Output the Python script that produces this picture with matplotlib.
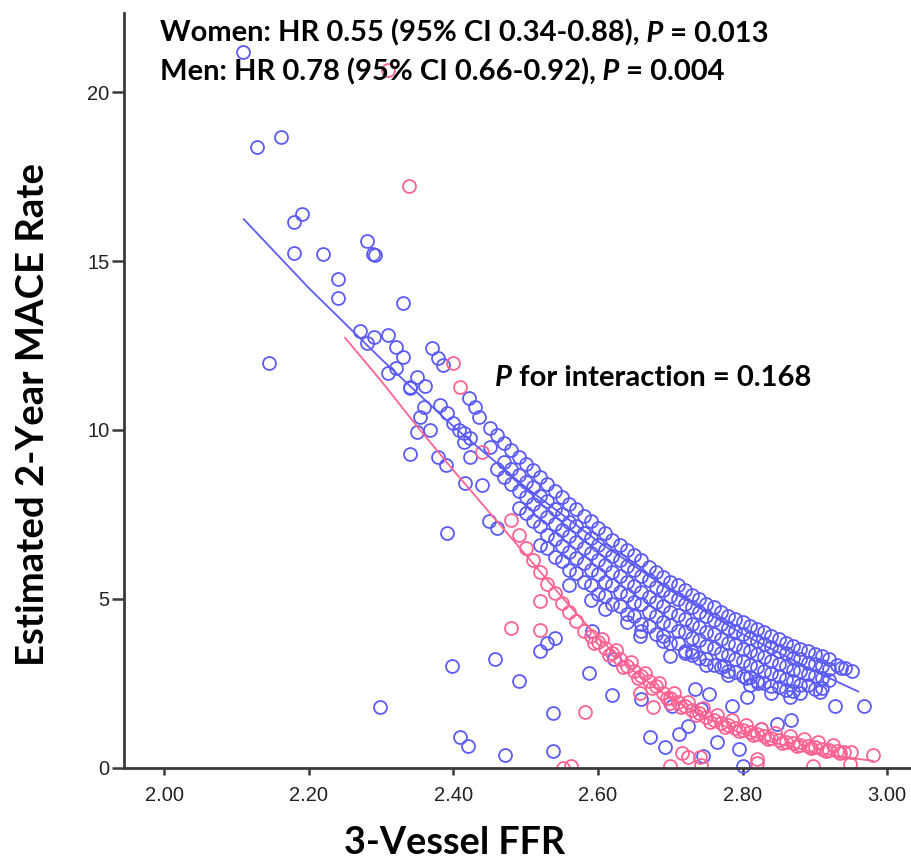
import matplotlib
matplotlib.use("Agg")
import matplotlib.pyplot as plt

# ---------------- data ----------------
men_top_x = [2.45, 2.46, 2.47, 2.48, 2.49, 2.50, 2.51, 2.52, 2.53, 2.54, 2.55, 2.56, 2.57, 2.58, 2.59, 2.60,
             2.61, 2.62, 2.63, 2.64, 2.65, 2.66, 2.67, 2.68, 2.69, 2.70, 2.71, 2.72, 2.73, 2.74, 2.75, 2.76,
             2.77, 2.78, 2.79, 2.80, 2.81, 2.82, 2.83, 2.84, 2.85, 2.86, 2.87, 2.88, 2.89, 2.90, 2.91, 2.92]
men_top_y = [10.05, 9.85, 9.6, 9.4, 9.2, 9.0, 8.8, 8.6, 8.4, 8.2, 8.0, 7.8, 7.65, 7.45, 7.3, 7.1,
             6.95, 6.75, 6.6, 6.45, 6.3, 6.15, 5.95, 5.8, 5.65, 5.5, 5.4, 5.25, 5.1, 5.0, 4.85, 4.75,
             4.6, 4.5, 4.4, 4.3, 4.2, 4.1, 4.0, 3.9, 3.8, 3.7, 3.6, 3.5, 3.45, 3.35, 3.3, 3.2]

men_band_x = [2.45, 2.47, 2.49, 2.51, 2.53, 2.55, 2.57, 2.59, 2.61, 2.63, 2.65, 2.67, 2.69, 2.71, 2.73, 2.75,
              2.77, 2.79, 2.81, 2.83, 2.85, 2.87, 2.89, 2.91,
              2.46, 2.48, 2.50, 2.52, 2.54, 2.56, 2.58, 2.60, 2.62, 2.64, 2.66, 2.68, 2.70, 2.72, 2.74, 2.76,
              2.78, 2.80, 2.82, 2.84, 2.86, 2.88, 2.90, 2.92,
              2.49, 2.51, 2.53, 2.55, 2.57, 2.59, 2.61, 2.63, 2.65, 2.67, 2.69, 2.71, 2.73, 2.75, 2.77, 2.79,
              2.81, 2.83, 2.85, 2.87, 2.89, 2.91,
              2.52, 2.54, 2.56, 2.58, 2.60, 2.62, 2.64, 2.66, 2.68, 2.70, 2.72, 2.74, 2.76, 2.78, 2.80, 2.82,
              2.84, 2.86, 2.88,
              2.48, 2.50, 2.52, 2.54, 2.56, 2.58, 2.60, 2.62, 2.64, 2.66, 2.68, 2.70, 2.72, 2.74, 2.76, 2.78,
              2.80, 2.82, 2.84, 2.86, 2.88, 2.90, 2.92,
              2.47, 2.49, 2.51, 2.53, 2.55, 2.57, 2.59, 2.61, 2.63, 2.65, 2.67, 2.69, 2.71, 2.73, 2.75, 2.77,
              2.79, 2.81, 2.83, 2.85, 2.87, 2.89, 2.91,
              2.50, 2.52, 2.54, 2.56, 2.58, 2.60, 2.62, 2.64, 2.66, 2.68, 2.70, 2.72, 2.74, 2.76, 2.78, 2.80,
              2.82, 2.84, 2.86, 2.88, 2.90,
              2.53, 2.55, 2.57, 2.59, 2.61, 2.63, 2.65, 2.67, 2.69, 2.71, 2.73, 2.75, 2.77, 2.79, 2.81, 2.83,
              2.85, 2.87,
              2.56, 2.59, 2.61, 2.64, 2.66, 2.69, 2.72, 2.75, 2.78, 2.81, 2.84]
men_band_y = [9.5, 9.05, 8.65, 8.3, 7.9, 7.5, 7.15, 6.8, 6.45, 6.15, 5.85, 5.55, 5.25, 5.0, 4.75, 4.5,
              4.25, 4.05, 3.85, 3.65, 3.45, 3.25, 3.1, 3.0,
              8.85, 8.4, 8.0, 7.6, 7.2, 6.85, 6.5, 6.15, 5.8, 5.5, 5.2, 4.9, 4.6, 4.4, 4.15, 3.95,
              3.7, 3.5, 3.35, 3.15, 3.0, 2.85, 2.7, 2.6,
              7.7, 7.3, 6.9, 6.55, 6.2, 5.85, 5.5, 5.2, 4.9, 4.6, 4.3, 4.05, 3.85, 3.6, 3.4, 3.2,
              3.05, 2.85, 2.7, 2.55, 2.45, 2.35,
              6.6, 6.25, 5.85, 5.5, 5.15, 4.85, 4.55, 4.25, 3.95, 3.7, 3.45, 3.25, 3.05, 2.85, 2.7, 2.55,
              2.4, 2.3, 2.2,
              8.85, 8.45, 8.05, 7.67, 7.28, 6.95, 6.6, 6.27, 5.97, 5.68, 5.35, 5.07, 4.83, 4.6, 4.36, 4.13,
              3.95, 3.76, 3.58, 3.39, 3.2, 3.06, 2.92,
              8.6, 8.2, 7.8, 7.42, 7.03, 6.68, 6.35, 6.0, 5.67, 5.38, 5.05, 4.77, 4.53, 4.25, 4.02, 3.8,
              3.62, 3.44, 3.26, 3.08, 2.9, 2.77, 2.65,
              7.55, 7.15, 6.77, 6.38, 6.05, 5.72, 5.4, 5.12, 4.83, 4.5, 4.23, 4.0, 3.78, 3.55, 3.33, 3.15,
              2.97, 2.8, 2.62, 2.45, 2.33,
              6.5, 6.12, 5.77, 5.42, 5.08, 4.77, 4.5, 4.18, 3.9, 3.68, 3.42, 3.2, 2.98, 2.82, 2.67, 2.5,
              2.38, 2.27,
              5.4, 4.95, 4.7, 4.3, 4.05, 3.75, 3.4, 3.05, 2.75, 2.45, 2.2]

men_scatter_x = [2.109, 2.128, 2.161, 2.179, 2.190, 2.180, 2.220, 2.240, 2.240, 2.280, 2.289, 2.291, 2.330,
                 2.145, 2.271, 2.280, 2.290, 2.310, 2.320, 2.330, 2.309, 2.321, 2.370, 2.379, 2.385, 2.340,
                 2.350, 2.361, 2.359, 2.381, 2.354, 2.368, 2.349, 2.391, 2.400, 2.421, 2.430, 2.435, 2.414,
                 2.423, 2.340, 2.379, 2.389, 2.407, 2.414, 2.423, 2.391, 2.416, 2.439, 2.449, 2.460, 2.340,
                 2.299, 2.398, 2.409, 2.420, 2.471, 2.458, 2.490, 2.538, 2.538, 2.520, 2.529, 2.541, 2.592,
                 2.587, 2.622, 2.658, 2.700, 2.730, 2.620, 2.660, 2.734, 2.754, 2.806, 2.786, 2.703, 2.743,
                 2.724, 2.712, 2.672, 2.693, 2.765, 2.795, 2.745, 2.826, 2.848, 2.867, 2.800, 2.866, 2.928,
                 2.968, 2.936, 2.952, 2.907, 2.774, 2.805, 2.821, 2.931, 2.942]
men_scatter_y = [21.18, 18.37, 18.67, 16.16, 16.39, 15.25, 15.20, 14.46, 13.91, 15.59, 15.21, 15.17, 13.75,
                 11.99, 12.93, 12.58, 12.76, 12.81, 12.46, 12.17, 11.68, 11.83, 12.44, 12.12, 11.92, 11.23,
                 11.58, 11.30, 10.69, 10.74, 10.39, 10.00, 9.95, 10.49, 10.20, 10.94, 10.69, 10.39, 9.90,
                 9.75, 9.30, 9.20, 8.96, 10.00, 9.65, 9.20, 6.94, 8.42, 8.37, 7.29, 7.09, 11.28,
                 1.78, 3.02, 0.89, 0.65, 0.38, 3.20, 2.57, 1.60, 0.50, 3.44, 3.69, 3.84, 4.03,
                 2.80, 3.20, 3.89, 3.30, 3.34, 2.14, 2.04, 2.32, 2.19, 2.09, 1.83, 1.83, 1.73,
                 1.22, 0.98, 0.89, 0.62, 0.77, 0.56, 0.34, 1.15, 1.30, 1.41, 0.05, 2.09, 1.83,
                 1.83, 2.95, 2.85, 2.24, 3.00, 2.64, 2.49, 3.05, 2.96]

women_band_x = [2.48, 2.49, 2.50, 2.51, 2.52, 2.53, 2.54, 2.55, 2.56, 2.57, 2.58, 2.59, 2.60, 2.61, 2.62,
                2.63, 2.64, 2.65, 2.66, 2.67, 2.68, 2.69, 2.70, 2.71, 2.72, 2.73, 2.74, 2.75, 2.76, 2.77,
                2.78, 2.79, 2.80, 2.81, 2.82, 2.83, 2.84, 2.85, 2.86, 2.87, 2.88, 2.89, 2.90, 2.91, 2.92,
                2.93, 2.94, 2.95, 2.98,
                2.605, 2.625, 2.645, 2.665, 2.685, 2.705, 2.725, 2.745, 2.765, 2.785, 2.805, 2.825, 2.845,
                2.865, 2.885, 2.905, 2.925,
                2.595, 2.615, 2.635, 2.655, 2.675, 2.695, 2.715, 2.735, 2.755, 2.775, 2.795, 2.815, 2.835,
                2.855, 2.875, 2.895, 2.915, 2.935]
women_band_y = [7.34, 6.9, 6.5, 6.15, 5.8, 5.45, 5.18, 4.87, 4.6, 4.33, 4.05, 3.9, 3.72, 3.55, 3.38,
                3.2, 3.02, 2.86, 2.7, 2.55, 2.4, 2.22, 2.06, 1.94, 1.82, 1.7, 1.6, 1.5, 1.41, 1.33,
                1.25, 1.18, 1.11, 1.05, 0.99, 0.93, 0.87, 0.82, 0.77, 0.72, 0.68, 0.64, 0.6, 0.56, 0.53,
                0.5, 0.47, 0.45, 0.36,
                3.82, 3.48, 3.12, 2.8, 2.5, 2.2, 1.95, 1.75, 1.56, 1.4, 1.26, 1.14, 1.02,
                0.92, 0.84, 0.76, 0.68,
                3.68, 3.32, 2.98, 2.66, 2.35, 2.05, 1.78, 1.55, 1.36, 1.21, 1.07, 0.95, 0.84,
                0.74, 0.65, 0.57, 0.5, 0.43]

women_scatter_x = [2.310, 2.339, 2.400, 2.409, 2.439, 2.479, 2.520, 2.520, 2.582, 2.552, 2.562, 2.700,
                   2.716, 2.724, 2.743, 2.741, 2.820, 2.820, 2.898, 2.949, 2.676, 2.658, 2.700]
women_scatter_y = [20.65, 17.22, 11.97, 11.26, 9.36, 4.13, 4.08, 4.92, 1.63, 0.00, 0.05, 0.05,
                   0.43, 0.31, 0.06, 0.30, 0.14, 0.24, 0.04, 0.09, 1.80, 2.22, 1.92]

men_fit_x = [2.11, 2.20, 2.30, 2.40, 2.50, 2.60, 2.70, 2.80, 2.90, 2.96]
men_fit_y = [16.24, 14.2, 12.1, 10.1, 8.3, 6.7, 5.25, 3.95, 2.85, 2.25]
women_fit_x = [2.25, 2.30, 2.35, 2.40, 2.45, 2.50, 2.55, 2.60, 2.65, 2.70, 2.75, 2.80, 2.85, 2.90, 2.95, 2.98]
women_fit_y = [12.73, 11.45, 10.1, 8.8, 7.55, 6.3, 5.05, 3.85, 2.85, 2.05, 1.45, 1.0, 0.7, 0.45, 0.28, 0.2]

x_ticks = [2.00, 2.20, 2.40, 2.60, 2.80, 3.00]
x_tick_labels = ["2.00", "2.20", "2.40", "2.60", "2.80", "3.00"]
y_ticks = [0, 5, 10, 15, 20]

# ---------------- styling ----------------
W, H = 911, 865
BLUE = "#5b5bf7"
PINK = "#ff6391"
AXC = "#3a3a3a"
TXT_FONT = "Lato"

fig = plt.figure(figsize=(W / 100, H / 100), dpi=100)
ax = fig.add_axes([124 / W, 1 - 767.5 / H, (W - 124) / W, (767.5 - 13) / H])

ms, mew = 9.3, 1.3
ax.plot(men_top_x + men_band_x + men_scatter_x, men_top_y + men_band_y + men_scatter_y,
        linestyle="none", marker="o", ms=ms, mfc="none", mec=BLUE, mew=mew, clip_on=False, zorder=2)
ax.plot(women_band_x + women_scatter_x, women_band_y + women_scatter_y,
        linestyle="none", marker="o", ms=ms, mfc="none", mec=PINK, mew=mew, clip_on=True, zorder=2)
ax.plot(men_fit_x, men_fit_y, color=BLUE, lw=1.3, zorder=3)
ax.plot(women_fit_x, women_fit_y, color=PINK, lw=1.3, zorder=3)

ax.set_xlim(1.9442, 3.033)
ax.set_ylim(0, 22.35)
ax.set_xticks(x_ticks)
ax.set_xticklabels(x_tick_labels)
ax.set_yticks(y_ticks)
for s in ("top", "right"):
    ax.spines[s].set_visible(False)
for s in ("left", "bottom"):
    ax.spines[s].set_color(AXC)
    ax.spines[s].set_linewidth(2.0)
ax.tick_params(axis="y", direction="out", length=9, width=1.8, color=AXC, pad=1.5,
               labelsize=14.5, labelcolor="#222222")
ax.tick_params(axis="x", direction="out", length=5, width=1.8, color=AXC, pad=8,
               labelsize=14.5, labelcolor="#222222")
for lab in ax.get_xticklabels() + ax.get_yticklabels():
    lab.set_fontfamily("Liberation Sans")

# ---------------- texts ----------------
fig.canvas.draw()
renderer = fig.canvas.get_renderer()


def rich(x_px, base_px, parts, size):
    x = x_px
    for s, style in parts:
        t = fig.text(x / W, 1 - base_px / H, s, fontsize=size, fontweight="bold", fontstyle=style,
                     family=TXT_FONT, va="baseline", ha="left", color="black")
        x += t.get_window_extent(renderer).width


rich(160, 41.5, [("Women: HR 0.55 (95% CI 0.34-0.88),", "normal"), (" P", "italic"), (" = 0.013", "normal")], 21)
rich(160, 80, [("Men: HR 0.78 (95% CI 0.66-0.92),", "normal"), (" P", "italic"), (" = 0.004", "normal")], 21)
rich(495, 386, [("P", "italic"), (" for interaction = 0.168", "normal")], 21)

fig.text(455 / W, 1 - 843 / H, "3-Vessel FFR", fontsize=27.2, fontweight="bold", family=TXT_FONT,
         ha="center", va="center")
fig.text(33 / W, 1 - 414 / H, "Estimated 2-Year MACE Rate", fontsize=27.5, fontweight="bold",
         family=TXT_FONT, rotation=90, ha="center", va="center")

fig.savefig("out.png", dpi=100)
